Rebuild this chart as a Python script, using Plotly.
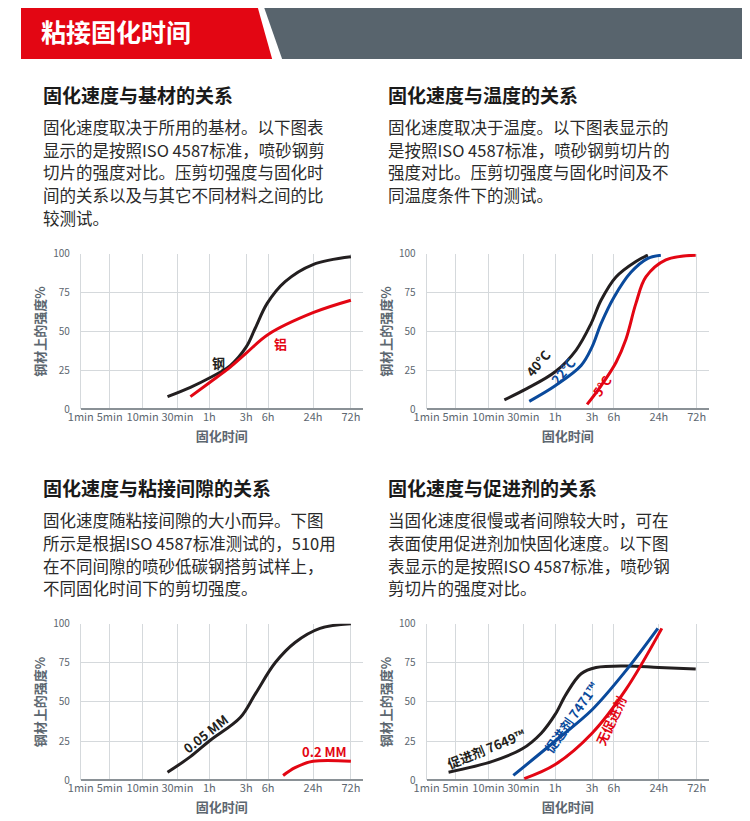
import plotly.graph_objects as go

W, H = 750, 821
tick_pos = [0, 29, 62, 97, 129, 166, 188, 233, 271]
tick_lbl = ["1min", "5min", "10min", "30min", "1h", "3h", "6h", "24h", "72h"]
y_ticks = [0, 25, 50, 75, 100]

steel_x = [87, 110, 129, 150, 166, 175, 187, 205, 233, 271]
steel_y = [8, 14, 20, 28, 40, 52, 68, 82, 93, 98]
alu_x = [110, 129, 150, 166, 188, 233, 271]
alu_y = [8, 17, 27, 36, 48, 62, 70]

t40_x = [78, 100, 129, 150, 165, 175, 190, 210, 222]
t40_y = [6, 13, 24, 38, 55, 70, 85, 95, 99]
t22_x = [103, 129, 155, 166, 175, 188, 205, 222, 235]
t22_y = [5, 15, 28, 40, 55, 72, 88, 97, 99]
t5_x = [161, 175, 190, 200, 210, 220, 240, 270]
t5_y = [3, 15, 30, 45, 68, 85, 96, 99]

g05_x = [87, 110, 129, 160, 175, 195, 215, 240, 271]
g05_y = [5, 15, 25, 40, 55, 75, 88, 97, 100]
g2_x = [203, 215, 233, 271]
g2_y = [3, 8, 12, 12]

a7649_x = [22, 66, 96, 115, 129, 140, 155, 170, 200, 233, 270]
a7649_y = [5, 12, 20, 30, 42, 55, 68, 72, 73, 72, 71]
a7471_x = [87, 129, 166, 200, 232]
a7471_y = [3, 25, 45, 70, 97]
anone_x = [98, 129, 166, 200, 236]
anone_y = [1, 10, 30, 58, 97]

BLACK, RED, BLUE = "#231f20", "#e30613", "#0a4a9c"
FONT = "Noto Sans CJK SC"
GREY = "#5d6770"


def PX(x):
    return (x - 20) / 0.986 / W


def PY(y):
    return 1 - (y - 17) / 0.979 / H


fig = go.Figure()
panels = [(80, 363, 254, 409), (427, 710, 254, 409), (80, 363, 623, 779), (427, 710, 623, 779)]
series = [
    [(steel_x, steel_y, BLACK), (alu_x, alu_y, RED)],
    [(t40_x, t40_y, BLACK), (t22_x, t22_y, BLUE), (t5_x, t5_y, RED)],
    [(g05_x, g05_y, BLACK), (g2_x, g2_y, RED)],
    [(a7649_x, a7649_y, BLACK), (a7471_x, a7471_y, BLUE), (anone_x, anone_y, RED)],
]
labels = [
    [("钢", 138, 30, 0, BLACK), ("铝", 200, 42, 0, RED)],
    [("40°C", 112, 30, -50, BLACK), ("22°C", 137, 25, -50, BLUE), ("5°C", 176, 15, -55, RED)],
    [("0.05 MM", 125, 30, -38, BLACK), ("0.2 MM", 245, 18, 0, RED)],
    [("促进剂 7649™", 60, 20, -22, BLACK), ("促进剂 7471™", 145, 40, -55, BLUE), ("无促进剂", 185, 38, -65, RED)],
]
for i, (x0, x1, yt, yb) in enumerate(panels):
    n = "" if i == 0 else str(i + 1)
    for xs, ys, c in series[i]:
        fig.add_trace(go.Scatter(x=xs, y=ys, mode="lines", line=dict(color=c, width=3, shape="spline"),
                                 xaxis="x" + n, yaxis="y" + n, showlegend=False, hoverinfo="skip"))
    fig.layout["xaxis" + n] = dict(domain=[PX(x0), PX(x1)], range=[0, 283], anchor="y" + n,
                                   tickvals=tick_pos, ticktext=tick_lbl, showgrid=True, gridcolor="#d5d9dc",
                                   zeroline=False, showline=False, ticks="",
                                   tickfont=dict(family=FONT, size=11, color=GREY),
                                   title=dict(text="<b>固化时间</b>", font=dict(family=FONT, size=13, color=GREY), standoff=8))
    fig.layout["yaxis" + n] = dict(domain=[PY(yb), PY(yt)], range=[0, 100], anchor="x" + n,
                                   tickvals=y_ticks, showgrid=True, gridcolor="#d5d9dc", zeroline=True,
                                   zerolinecolor="#8a9196", showline=True, linecolor="#d5d9dc", ticks="",
                                   ticklabelstandoff=8,
                                   tickfont=dict(family=FONT, size=10, color=GREY),
                                   title=dict(text="<b>钢材上的强度%</b>", font=dict(family=FONT, size=13, color=GREY), standoff=4))
    for t, x, y, a, c in labels[i]:
        fig.add_annotation(x=x, y=y, xref="x" + n, yref="y" + n, text="<b>" + t + "</b>", textangle=a,
                           showarrow=False, font=dict(family=FONT, size=13, color=c))

fig.add_shape(type="path", xref="paper", yref="paper",
              path=f"M {PX(262)} {PY(3)} L 1 {PY(3)} L 1 {PY(60)} L {PX(282)} {PY(60)} Z",
              fillcolor="#58646d", line=dict(width=0))
fig.add_shape(type="path", xref="paper", yref="paper",
              path=f"M {PX(20)} {PY(3)} L {PX(256)} {PY(3)} L {PX(272)} {PY(60)} L {PX(20)} {PY(60)} Z",
              fillcolor="#e30613", line=dict(width=0))
fig.add_annotation(x=PX(38), y=PY(32), xref="paper", yref="paper", xanchor="left", yanchor="middle",
                   text="<b>粘接固化时间</b>", showarrow=False, font=dict(family=FONT, size=25, color="white"))

texts = [
    (40, 95, "固化速度与基材的关系",
     ["固化速度取决于所用的基材。以下图表", "显示的是按照ISO 4587标准，喷砂钢剪", "切片的强度对比。压剪切强度与固化时",
      "间的关系以及与其它不同材料之间的比", "较测试。"]),
    (386, 95, "固化速度与温度的关系",
     ["固化速度取决于温度。以下图表显示的", "是按照ISO 4587标准，喷砂钢剪切片的", "强度对比。压剪切强度与固化时间及不",
      "同温度条件下的测试。"]),
    (40, 487, "固化速度与粘接间隙的关系",
     ["固化速度随粘接间隙的大小而异。下图", "所示是根据ISO 4587标准测试的，510用", "在不同间隙的喷砂低碳钢搭剪试样上，",
      "不同固化时间下的剪切强度。"]),
    (386, 487, "固化速度与促进剂的关系",
     ["当固化速度很慢或者间隙较大时，可在", "表面使用促进剂加快固化速度。以下图", "表显示的是按照ISO 4587标准，喷砂钢",
      "剪切片的强度对比。"]),
]
for x, y, title, lines in texts:
    fig.add_annotation(x=PX(x), y=PY(y), xref="paper", yref="paper", xanchor="left", yanchor="middle",
                       text="<b>" + title + "</b>", showarrow=False, font=dict(family=FONT, size=19, color="#1a1a1a"))
    for k, ln in enumerate(lines):
        fig.add_annotation(x=PX(x), y=PY(y + 33 + 22.5 * k), xref="paper", yref="paper",
                           xanchor="left", yanchor="middle", text=ln, showarrow=False,
                           font=dict(family=FONT, size=16.5, color="#2a2a2a"))

fig.update_layout(width=W, height=H, margin=dict(l=0, r=0, t=0, b=0), plot_bgcolor="white",
                  paper_bgcolor="white", font=dict(family=FONT))
fig.write_html("out.html")
